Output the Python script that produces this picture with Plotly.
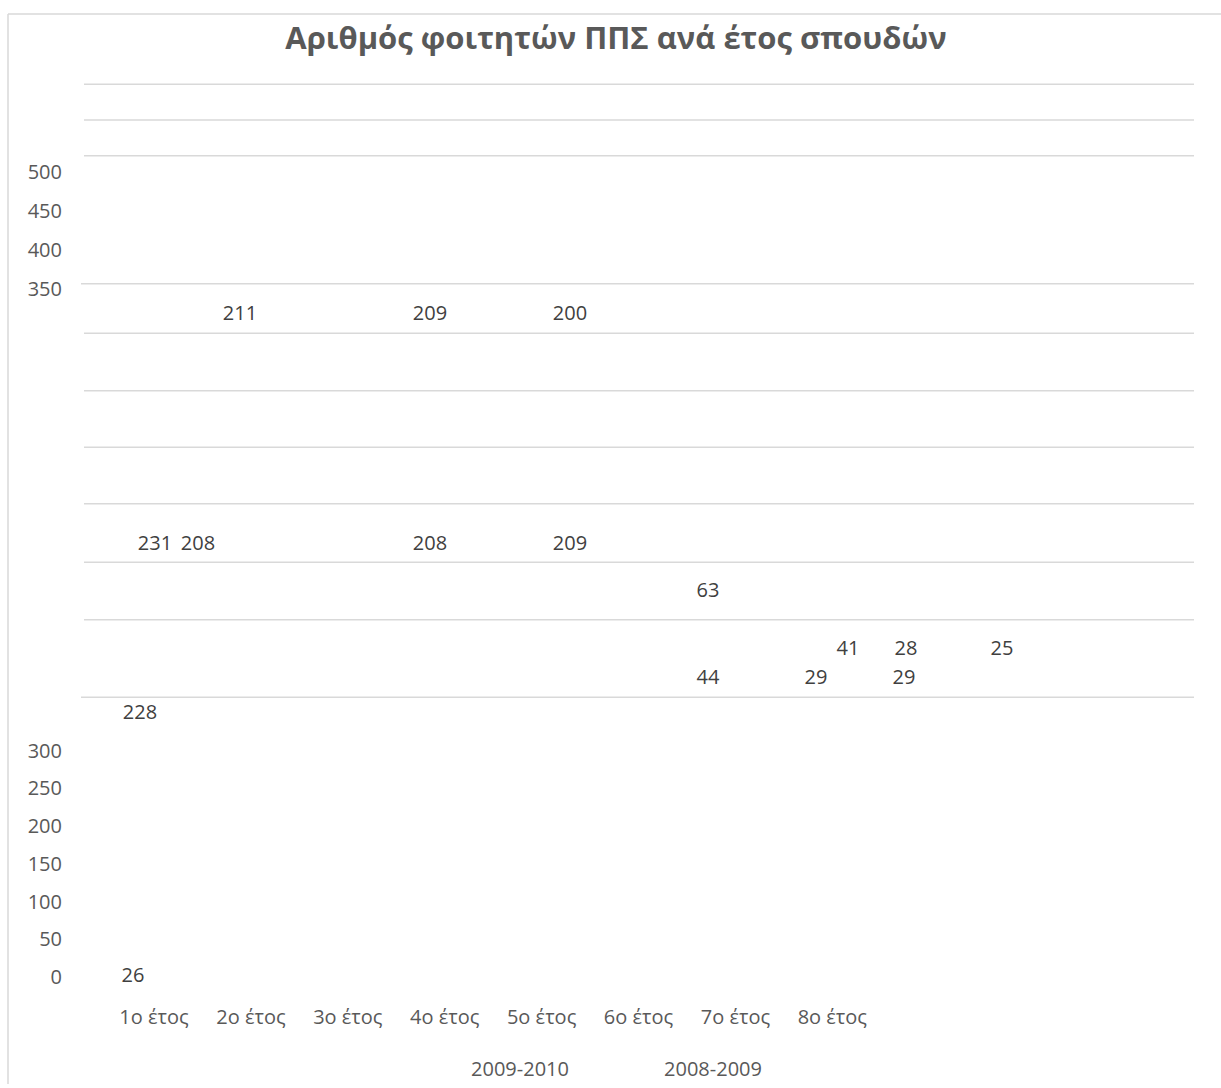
import plotly.graph_objects as go

# ---------------- data ----------------
categories = ["1o έτος", "2o έτος", "3o έτος", "4o έτος", "5o έτος", "6o έτος", "7o έτος", "8o έτος"]
series_names = ["2009-2010", "2008-2009"]
lower_ticks = [0, 50, 100, 150, 200, 250, 300]
upper_ticks = [350, 400, 450, 500]
title_text = "Αριθμός φοιτητών ΠΠΣ ανά έτος σπουδών"

# data labels as they appear in the (broken 3D) chart
label_values = [211, 209, 200,
                231, 208, 208, 209,
                63,
                41, 28, 25,
                44, 29, 29,
                228,
                26]

# ---------------- layout helpers (pixel positions) ----------------
W, H = 1221, 1088
label_px_x = [240, 430, 570,
              155, 198, 430, 570,
              708,
              848, 906, 1002,
              708, 816, 904,
              140,
              133]
label_px_y = [313, 313, 313,
              544, 544, 544, 544,
              592,
              650, 650, 650,
              680, 680, 680,
              715,
              980]
series_px_x = [520, 713]
series_px_y = [1075, 1075]
grid_px_y = [80, 116, 152, 281, 331, 389, 446, 503, 562, 620, 698]
grid_px_x0 = [84, 84, 84, 81, 84, 84, 84, 84, 84, 84, 81]
grid_px_x1 = 1194

TEXT = "#595959"
GRID = "#d9d9d9"
FONT = "Open Sans"


def fy(p):
    return 1 - p / H


def fx(p):
    return p / W


# lower value axis: 0 at y=980px, 300 at y=752px
low_k = (980 - 752) / 300.0
low_range = [-35, 320]
low_dom = [fy(980 - low_k * low_range[0]), fy(980 - low_k * low_range[1])]
# upper value axis: 350 at y=286px, 500 at y=168px
up_k = (286 - 168) / 150.0
up_range = [338, 512]
up_dom = [fy(286 - up_k * (up_range[0] - 350)), fy(286 - up_k * (up_range[1] - 350))]

# category axis: centers at 154 + 96.9*i
c0, step = 154, 96.9
x_dom = [fx(c0 - step / 2), fx(c0 + step * (len(categories) - 0.5))]

fig = go.Figure()

# anchor traces for axes
fig.add_trace(go.Scatter(x=categories, y=[None] * len(categories), xaxis="x", yaxis="y",
                         mode="markers", showlegend=False, hoverinfo="skip"))
fig.add_trace(go.Scatter(x=categories, y=[None] * len(categories), xaxis="x", yaxis="y2",
                         mode="markers", showlegend=False, hoverinfo="skip"))

# data labels
fig.add_trace(go.Scatter(x=label_px_x, y=label_px_y, xaxis="x2", yaxis="y3",
                         mode="text", text=[str(v) for v in label_values],
                         textfont=dict(family=FONT, size=20, color="#404040"),
                         textposition="middle center", showlegend=False, hoverinfo="skip"))
# series (depth axis) labels
fig.add_trace(go.Scatter(x=series_px_x, y=series_px_y, xaxis="x2", yaxis="y3",
                         mode="text", text=series_names,
                         textfont=dict(family=FONT, size=20, color=TEXT),
                         textposition="middle center", showlegend=False, hoverinfo="skip"))

shapes = []
for y, x0 in zip(grid_px_y, grid_px_x0):
    shapes.append(dict(type="line", xref="x2", yref="y3", x0=x0, x1=grid_px_x1, y0=y, y1=y,
                       line=dict(color=GRID, width=1.5), layer="below"))
# chart frame (left and top edges)
shapes.append(dict(type="line", xref="x2", yref="y3", x0=8, x1=8, y0=9, y1=H,
                   line=dict(color=GRID, width=1.5)))
shapes.append(dict(type="line", xref="x2", yref="y3", x0=8, x1=W, y0=9, y1=9,
                   line=dict(color=GRID, width=1.5)))

fig.update_layout(
    width=W, height=H,
    margin=dict(l=0, r=0, t=0, b=0),
    paper_bgcolor="white", plot_bgcolor="rgba(0,0,0,0)",
    showlegend=False,
    title=dict(text=title_text, x=fx(616), y=fy(38), xanchor="center", yanchor="middle",
               font=dict(family=FONT, size=31, color=TEXT, weight="bold")),
    xaxis=dict(domain=x_dom, range=[-0.5, len(categories) - 0.5], type="category",
               anchor="y", showgrid=False, zeroline=False, showline=False, ticks="",
               tickfont=dict(family=FONT, size=20, color=TEXT), fixedrange=True),
    yaxis=dict(domain=low_dom, range=low_range, anchor="free", position=fx(62),
               tickvals=lower_ticks, showgrid=False, zeroline=False, showline=False, ticks="",
               tickfont=dict(family=FONT, size=20, color=TEXT), fixedrange=True),
    yaxis2=dict(domain=up_dom, range=up_range, anchor="free", position=fx(62),
                tickvals=upper_ticks, showgrid=False, zeroline=False, showline=False, ticks="",
                tickfont=dict(family=FONT, size=20, color=TEXT), fixedrange=True),
    xaxis2=dict(domain=[0, 1], range=[0, W], anchor="y3", visible=False, fixedrange=True),
    yaxis3=dict(domain=[0, 1], range=[H, 0], anchor="x2", visible=False, fixedrange=True),
    shapes=shapes,
)

fig.write_html("out.html")
